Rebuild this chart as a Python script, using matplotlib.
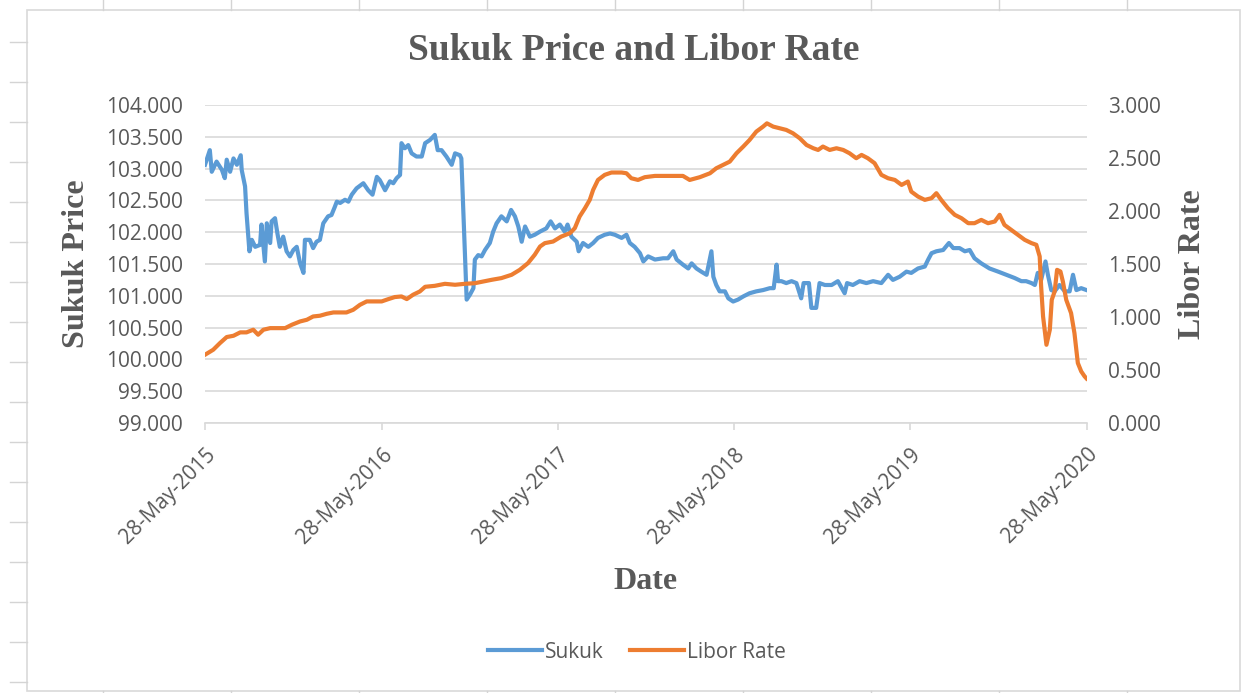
import pandas as pd
import matplotlib
matplotlib.use('Agg')
import matplotlib.pyplot as plt
import matplotlib.dates as mdates
from matplotlib.lines import Line2D
from matplotlib.patches import Rectangle
from matplotlib.ticker import MultipleLocator, FormatStrFormatter

start_date = pd.Timestamp('2015-05-28')

# days since 28-May-2015 and values
sukuk_days = [0, 10, 14, 24, 35, 41, 45, 52, 59, 66, 74, 76, 83, 86, 92, 97, 104, 114, 117, 124,
              128, 135, 138, 145, 150, 155, 162, 169, 176, 183, 190, 197, 204, 207, 217, 224, 231, 238, 245, 255,
              262, 269, 273, 280, 290, 297, 304, 314, 328, 338, 347, 356, 362, 373, 383, 390, 397, 404, 407, 414,
              421, 428, 438, 449, 456, 466, 476, 482, 490, 500, 511, 518, 528, 531, 542, 549, 556, 559, 566, 573,
              580, 590, 597, 604, 614, 625, 634, 642, 649, 656, 663, 673, 683, 694, 707, 716, 725, 735, 745, 751,
              759, 770, 774, 783, 794, 804, 814, 828, 839, 849, 863, 873, 880, 890, 901, 908, 918, 932, 949, 959,
              970, 977, 990, 1001, 1008, 1018, 1028, 1039, 1049, 1053, 1059, 1066, 1077, 1084, 1094, 1104, 1115, 1128, 1142, 1156,
              1170, 1178, 1184, 1187, 1194, 1204, 1215, 1225, 1235, 1240, 1251, 1256, 1266, 1273, 1284, 1298, 1311, 1325, 1330, 1342,
              1356, 1370, 1384, 1401, 1415, 1425, 1439, 1453, 1463, 1477, 1491, 1498, 1505, 1515, 1529, 1541, 1550, 1563, 1574, 1584,
              1594, 1608, 1625, 1643, 1660, 1677, 1691, 1701, 1712, 1719, 1725, 1732, 1741, 1746, 1753, 1760, 1770, 1781, 1791, 1798,
              1805, 1815, 1826]
sukuk_price = [103.06, 103.29, 102.95, 103.11, 102.98, 102.85, 103.14, 102.95, 103.16, 103.06, 103.21, 102.98, 102.72, 102.30, 101.70, 101.88, 101.77, 101.80, 102.12, 101.54,
               102.14, 101.83, 102.17, 102.22, 101.98, 101.77, 101.93, 101.70, 101.62, 101.72, 101.77, 101.51, 101.36, 101.88, 101.88, 101.75, 101.85, 101.88, 102.14, 102.25,
               102.27, 102.40, 102.48, 102.46, 102.51, 102.48, 102.59, 102.69, 102.77, 102.66, 102.59, 102.87, 102.82, 102.66, 102.80, 102.77, 102.85, 102.90, 103.40, 103.32,
               103.37, 103.24, 103.19, 103.19, 103.40, 103.45, 103.53, 103.29, 103.29, 103.19, 103.06, 103.24, 103.21, 103.16, 100.94, 101.02, 101.12, 101.57, 101.64, 101.62,
               101.72, 101.83, 102.01, 102.14, 102.25, 102.17, 102.35, 102.25, 102.09, 101.85, 102.09, 101.93, 101.96, 102.01, 102.06, 102.17, 102.06, 102.12, 102.01, 102.12,
               101.93, 101.85, 101.70, 101.83, 101.77, 101.83, 101.91, 101.96, 101.98, 101.96, 101.91, 101.96, 101.83, 101.77, 101.67, 101.54, 101.62, 101.57, 101.59, 101.59,
               101.70, 101.57, 101.49, 101.43, 101.51, 101.43, 101.38, 101.33, 101.70, 101.30, 101.17, 101.07, 101.07, 100.96, 100.91, 100.94, 100.99, 101.04, 101.07, 101.09,
               101.12, 101.12, 101.49, 101.23, 101.23, 101.20, 101.23, 101.20, 100.96, 101.20, 101.20, 100.81, 100.81, 101.20, 101.17, 101.17, 101.23, 101.04, 101.20, 101.17,
               101.23, 101.20, 101.23, 101.20, 101.33, 101.25, 101.30, 101.38, 101.36, 101.43, 101.46, 101.57, 101.67, 101.70, 101.72, 101.83, 101.75, 101.75, 101.70, 101.72,
               101.59, 101.51, 101.43, 101.38, 101.33, 101.28, 101.23, 101.23, 101.20, 101.17, 101.36, 101.25, 101.54, 101.33, 101.09, 101.07, 101.17, 101.07, 101.07, 101.33,
               101.09, 101.12, 101.09]

libor_days = [0, 17, 31, 45, 59, 73, 86, 100, 110, 121, 135, 148, 166, 180, 197, 211, 224, 238, 252, 266,
              280, 293, 307, 321, 335, 349, 366, 380, 393, 407, 418, 431, 445, 456, 476, 497, 518, 538, 559, 576,
              594, 614, 635, 652, 669, 683, 694, 704, 721, 738, 756, 766, 776, 787, 797, 804, 814, 828, 842, 863,
              873, 883, 897, 911, 932, 942, 963, 990, 1004, 1025, 1046, 1059, 1073, 1087, 1101, 1115, 1128, 1142, 1156, 1164,
              1177, 1191, 1204, 1218, 1232, 1246, 1260, 1270, 1280, 1294, 1308, 1322, 1335, 1349, 1360, 1373, 1387, 1401, 1415, 1429,
              1443, 1456, 1463, 1477, 1491, 1505, 1515, 1525, 1539, 1553, 1567, 1581, 1594, 1608, 1622, 1636, 1646, 1656, 1670, 1684,
              1698, 1712, 1722, 1729, 1732, 1736, 1743, 1750, 1754, 1760, 1765, 1772, 1777, 1784, 1794, 1801, 1808, 1815, 1822, 1826]
libor_rate = [0.644, 0.691, 0.754, 0.811, 0.823, 0.855, 0.855, 0.880, 0.833, 0.880, 0.895, 0.895, 0.895, 0.927, 0.958, 0.974, 1.005, 1.012, 1.030, 1.043,
              1.043, 1.043, 1.068, 1.115, 1.147, 1.147, 1.147, 1.169, 1.188, 1.194, 1.169, 1.210, 1.241, 1.285, 1.294, 1.313, 1.304, 1.313, 1.319, 1.335,
              1.351, 1.367, 1.398, 1.445, 1.508, 1.587, 1.665, 1.697, 1.712, 1.759, 1.791, 1.838, 1.948, 2.026, 2.105, 2.199, 2.293, 2.341, 2.363, 2.363,
              2.356, 2.309, 2.293, 2.319, 2.331, 2.331, 2.331, 2.331, 2.293, 2.319, 2.356, 2.403, 2.435, 2.466, 2.545, 2.608, 2.670, 2.749, 2.796, 2.827,
              2.796, 2.780, 2.765, 2.733, 2.686, 2.623, 2.592, 2.576, 2.608, 2.576, 2.592, 2.576, 2.545, 2.498, 2.529, 2.498, 2.451, 2.341, 2.309, 2.293,
              2.246, 2.278, 2.183, 2.136, 2.105, 2.121, 2.168, 2.105, 2.026, 1.964, 1.932, 1.885, 1.885, 1.916, 1.885, 1.901, 1.964, 1.869, 1.822, 1.775,
              1.728, 1.697, 1.681, 1.571, 1.288, 1.005, 0.738, 0.880, 1.162, 1.241, 1.445, 1.429, 1.335, 1.162, 1.037, 0.848, 0.566, 0.487, 0.440, 0.420]

year_ticks = ['2015-05-28', '2016-05-28', '2017-05-28', '2018-05-28', '2019-05-28', '2020-05-28']

sukuk_dates = start_date + pd.to_timedelta(sukuk_days, unit='D')
libor_dates = start_date + pd.to_timedelta(libor_days, unit='D')

W, H = 1243, 693
grey = '#595959'
serif = 'Liberation Serif'
plt.rcParams['font.family'] = ['Open Sans', 'DejaVu Sans']

fig = plt.figure(figsize=(W / 100, H / 100), dpi=100)
ax = fig.add_axes([205 / W, 1 - 423 / H, 882 / W, 318 / H])
ax2 = ax.twinx()

# sheet cell grid peeking out round the chart, and the chart border
for yy in range(42, 690, 40):
    fig.add_artist(Line2D([10 / W, 27 / W], [1 - yy / H, 1 - yy / H], color='#D4D4D4', lw=1))
for xx in range(103, 1240, 128):
    fig.add_artist(Line2D([xx / W, xx / W], [1, 1 - 10 / H], color='#D4D4D4', lw=1))
    fig.add_artist(Line2D([xx / W, xx / W], [1 - 691 / H, 0], color='#D4D4D4', lw=1))
fig.add_artist(Rectangle((27 / W, 1 - 691 / H), 1213 / W, 681 / H, fill=False, ec='#D9D9D9', lw=1.2))

l1, = ax.plot(sukuk_dates, sukuk_price, color='#5B9BD5', lw=3, solid_joinstyle='round', label='Sukuk')
l2, = ax2.plot(libor_dates, libor_rate, color='#ED7D31', lw=3, solid_joinstyle='round', label='Libor Rate')

ax.set_ylim(99, 104)
ax.yaxis.set_major_locator(MultipleLocator(0.5))
ax.yaxis.set_major_formatter(FormatStrFormatter('%.3f'))
ax2.set_ylim(0, 3)
ax2.yaxis.set_major_locator(MultipleLocator(0.5))
ax2.yaxis.set_major_formatter(FormatStrFormatter('%.3f'))

ax.set_xlim(pd.Timestamp(year_ticks[0]), pd.Timestamp(year_ticks[-1]))
ax.set_xticks([pd.Timestamp(d) for d in year_ticks])
ax.xaxis.set_major_formatter(mdates.DateFormatter('%d-%b-%Y'))
plt.setp(ax.get_xticklabels(), rotation=45, ha='right', rotation_mode='anchor')

ax.grid(axis='y', color='#D9D9D9', lw=1.2)
ax.set_axisbelow(True)
for a in (ax, ax2):
    for s in ('top', 'left', 'right', 'bottom'):
        a.spines[s].set_visible(False)
ax.spines['bottom'].set_visible(True)
ax.spines['bottom'].set_color('#D9D9D9')
ax.spines['bottom'].set_linewidth(1.2)

ax.tick_params(axis='y', length=0, pad=16, labelsize=15, labelcolor=grey)
ax2.tick_params(axis='y', length=0, pad=15, labelsize=15, labelcolor=grey)
ax.tick_params(axis='x', length=5, width=1.2, color='#D9D9D9', pad=10, labelsize=15, labelcolor=grey)

ax.set_ylabel('Sukuk Price', family=serif, weight='bold', fontsize=23, color=grey)
ax.yaxis.set_label_coords(-0.129, 0.5)
ax2.set_ylabel('Libor Rate', family=serif, weight='bold', fontsize=23, color=grey)
ax2.yaxis.set_label_coords(1.103, 0.5)
ax.set_xlabel('Date', family=serif, weight='bold', fontsize=23, color=grey)
ax.xaxis.set_label_coords(0.499, -0.452)

fig.text(634 / W, 1 - 51 / H, 'Sukuk Price and Libor Rate', family=serif, weight='bold',
         fontsize=27, color=grey, ha='center', va='center')

fig.legend(handles=[l1, l2], loc='center', bbox_to_anchor=(637 / W, 1 - 652 / H), ncol=2,
           frameon=False, fontsize=15, labelcolor=grey, handlelength=2.6, handletextpad=0.15,
           columnspacing=1.25)

fig.savefig('out.png', dpi=100)
